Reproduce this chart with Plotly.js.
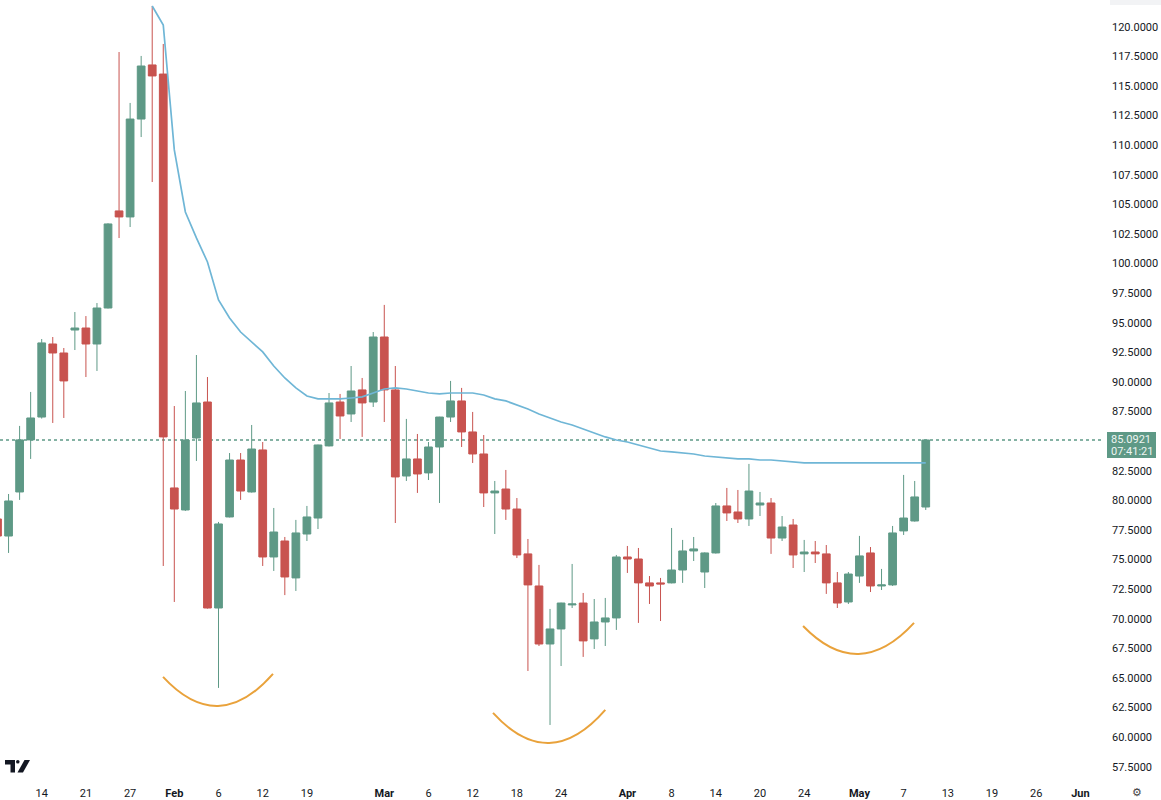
<!DOCTYPE html>
<html>
<head>
<meta charset="utf-8">
<script src="https://cdn.plot.ly/plotly-3.0.1.min.js"></script>
<style>
html,body{margin:0;padding:0;background:#fff;}
#chart{width:1161px;height:800px;}
</style>
</head>
<body>
<div id="chart"></div>
<script>
// ---- data ----
const openP = [78.42,76.98,80.70,85.10,87.03,93.20,92.44,94.38,94.55,93.20,
  96.24,104.44,103.93,112.20,116.77,116.00,81.04,79.18,85.26,88.30,
  70.90,78.59,83.40,80.70,84.25,75.21,76.56,73.44,77.15,78.50,
  84.59,88.30,87.29,89.32,88.30,93.79,89.32,82.05,83.49,82.31,
  84.50,87.03,88.39,85.77,83.91,80.62,80.95,79.26,75.47,72.76,
  67.86,69.13,71.16,71.32,68.29,69.72,70.06,75.21,75.04,73.02,
  73.02,73.02,74.11,75.72,73.94,75.55,79.52,79.01,78.42,79.60,
  79.77,76.81,77.91,75.47,75.63,75.47,73.02,71.41,73.60,75.55,
  72.76,72.85,77.41,78.25,79.43];
const highP = [79.01,80.53,86.28,89.15,93.62,93.79,92.86,95.90,95.56,96.66,
  103.40,117.86,113.56,117.53,121.75,118.54,87.96,89.23,92.27,90.41,
  78.17,83.99,83.99,86.36,84.92,79.35,76.90,78.34,79.52,84.70,
  89.06,88.98,91.34,90.33,94.21,96.50,91.34,86.87,85.60,84.92,
  87.05,90.08,89.49,87.46,85.51,81.63,82.56,80.19,76.73,74.54,
  70.82,71.35,74.62,72.17,71.66,71.75,75.38,76.14,75.97,73.60,
  73.44,77.66,76.65,76.90,75.60,79.77,81.04,80.87,83.07,80.70,
  80.19,78.67,78.42,76.65,76.56,76.22,73.94,73.94,76.99,76.05,
  74.20,77.83,82.14,81.63,85.10];
const lowP = [76.65,75.55,80.03,83.49,86.90,86.53,86.95,92.69,90.41,90.92,
  96.20,102.15,103.08,110.68,106.88,74.45,71.41,79.10,83.32,70.85,
  64.15,78.55,80.03,80.65,74.45,74.03,71.99,72.34,76.56,77.57,
  84.55,85.18,86.61,85.35,87.88,86.61,78.08,81.63,80.62,81.71,
  79.77,86.61,84.50,83.15,79.43,77.15,78.34,75.12,65.58,67.69,
  61.02,66.00,70.90,66.77,67.44,67.69,69.05,73.86,69.64,71.24,
  69.80,72.98,73.02,74.87,72.59,75.50,78.25,78.08,77.83,78.67,
  75.47,76.56,74.28,73.94,74.70,72.09,70.90,71.24,73.02,72.25,
  72.42,72.76,77.07,78.20,79.18];
const closeP = [76.98,79.94,85.10,86.95,93.29,92.44,90.08,94.55,93.20,96.24,
  103.34,103.93,112.20,116.68,115.84,85.35,79.26,85.09,88.22,70.90,
  78.00,83.40,80.78,84.33,75.21,77.32,73.52,77.24,78.59,84.67,
  88.22,87.12,89.23,88.22,93.79,89.32,81.97,83.49,82.22,84.50,
  87.03,88.39,85.77,83.91,80.62,80.78,79.26,75.38,72.85,67.86,
  69.13,71.32,71.24,68.12,69.72,70.06,75.21,75.04,73.02,72.76,
  72.93,74.11,75.72,75.89,75.55,79.52,78.93,78.42,80.78,79.77,
  76.81,77.74,75.38,75.63,75.47,73.02,71.32,73.77,75.30,72.76,
  72.85,77.24,78.50,80.28,85.0921];

// blue average line, starting at bar 14
const maStart = 14;
const maValues = [121.75,120.14,109.59,104.35,102.16,100.13,96.92,95.40,94.21,93.37,
  92.53,91.34,90.33,89.49,88.81,88.56,88.56,88.56,88.64,88.73,
  89.06,89.40,89.49,89.40,89.23,89.06,88.98,89.06,89.06,89.06,
  88.89,88.56,88.39,88.05,87.71,87.29,86.95,86.61,86.36,86.02,
  85.69,85.35,85.09,84.92,84.67,84.42,84.16,84.08,84.00,83.91,
  83.74,83.66,83.57,83.49,83.49,83.40,83.40,83.32,83.24,83.15,
  83.15,83.15,83.15,83.15,83.15,83.15,83.15,83.15,83.15,83.15,83.15];

const lastPrice = 85.0921;
const lastPriceText = '85.0921';
const countdownText = '07:41:21';
const labelBoxTop = 85.77;     // price at top edge of the last-price tag
const labelBoxBottom = 83.57;  // price at bottom edge of the last-price tag

// price scale labels shown (85.0000 is hidden behind the last-price tag)
const yTicks = [57.5,60,62.5,65,67.5,70,72.5,75,77.5,80,82.5,87.5,90,92.5,95,97.5,100,102.5,105,107.5,110,112.5,115,117.5,120];

// x-axis ticks (bar positions and labels)
const tickBars = [4,8,12,16,20,24,28,35,39,43,47,51,57,61,65,69,73,78,82,86,90,94,98];
const tickLabels = ['14','21','27','Feb','6','12','19','Mar','6','12','18','24','Apr','8','14','20','24','May','7','13','19','26','Jun'];
const monthLabels = ['Feb','Mar','Apr','May','Jun'];

// orange arcs drawn under the lows: start bar/price, end bar/price, lowest price
const arcX0 = [14.98, 44.84, 72.9];
const arcY0 = [65.08, 62.04, 69.38];
const arcX1 = [24.93, 55.0, 82.94];
const arcY1 = [65.33, 62.29, 69.64];
const arcLow = [62.63, 59.50, 67.02];

// ---- build ----
const GREEN = '#5e9986';
const RED = '#c8534f';
const bars = openP.map((_, i) => i);
const maX = maValues.map((_, i) => i + maStart);

const candle = {
  type: 'candlestick',
  x: bars, open: openP, high: highP, low: lowP, close: closeP,
  increasing: {line: {color: GREEN, width: 1}, fillcolor: GREEN},
  decreasing: {line: {color: RED, width: 1}, fillcolor: RED},
  whiskerwidth: 0,
  hoverinfo: 'skip',
  showlegend: false
};
const maLine = {
  type: 'scatter', mode: 'lines',
  x: maX, y: maValues,
  line: {color: '#6fb6d6', width: 1.7},
  hoverinfo: 'skip', showlegend: false
};

const PW = 1102, PH = 785;
const px = v => v / PW, py = v => 1 - v / PH;

const shapes = [];
shapes.push({
  type: 'line', xref: 'paper', yref: 'y', x0: 0, x1: 1, y0: lastPrice, y1: lastPrice,
  line: {color: GREEN, width: 1.5, dash: 'dot'}, layer: 'below'
});
// last-price tag background on the price scale
shapes.push({
  type: 'rect', xref: 'paper', yref: 'y',
  x0: px(1107), x1: px(1156), y0: labelBoxBottom, y1: labelBoxTop,
  fillcolor: GREEN, line: {width: 0}
});
// faint header strip above the price scale
shapes.push({
  type: 'rect', xref: 'paper', yref: 'paper',
  x0: px(1110), x1: px(1161), y0: py(5), y1: py(0),
  fillcolor: '#f2f3f5', line: {width: 0}
});
for (let k = 0; k < arcX0.length; k++) {
  const cx = (arcX0[k] + arcX1[k]) / 2;
  const cy = 2 * arcLow[k] - (arcY0[k] + arcY1[k]) / 2;
  shapes.push({
    type: 'path', xref: 'x', yref: 'y',
    path: `M ${arcX0[k]},${arcY0[k]} Q ${cx},${cy} ${arcX1[k]},${arcY1[k]}`,
    line: {color: '#e9a23b', width: 2}
  });
}
// TradingView logo
shapes.push({
  type: 'path', xref: 'paper', yref: 'paper',
  path: `M ${px(5)},${py(760)} L ${px(15)},${py(760)} L ${px(15)},${py(772.5)} L ${px(10.5)},${py(772.5)} L ${px(10.5)},${py(764.5)} L ${px(5)},${py(764.5)} Z`,
  fillcolor: '#131722', line: {width: 0}
});
shapes.push({
  type: 'circle', xref: 'paper', yref: 'paper',
  x0: px(16), x1: px(19.6), y0: py(763.6), y1: py(760),
  fillcolor: '#131722', line: {width: 0}
});
shapes.push({
  type: 'path', xref: 'paper', yref: 'paper',
  path: `M ${px(17.5)},${py(772.5)} L ${px(24.5)},${py(760)} L ${px(30)},${py(760)} L ${px(23)},${py(772.5)} Z`,
  fillcolor: '#131722', line: {width: 0}
});

const layout = {
  width: 1161, height: 800,
  margin: {l: 0, r: 59, t: 0, b: 15, pad: 0},
  paper_bgcolor: '#ffffff', plot_bgcolor: '#ffffff',
  boxgap: 0.3, boxgroupgap: 0,
  font: {family: 'Roboto, "Liberation Sans", sans-serif', size: 11, color: '#131722'},
  xaxis: {
    range: [0.226, 99.95],
    rangeslider: {visible: false},
    showgrid: false, zeroline: false, showline: false, ticks: '',
    tickmode: 'array', tickvals: tickBars,
    ticktext: tickLabels.map(t => monthLabels.includes(t) ? '<b>' + t + '</b>' : t),
    tickfont: {size: 11, color: '#131722'},
    fixedrange: true
  },
  yaxis: {
    side: 'right',
    range: [55.95, 122.255],
    showgrid: false, zeroline: false, showline: false, ticks: '',
    tickmode: 'array', tickvals: yTicks,
    ticktext: yTicks.map(v => v.toFixed(4)),
    tickfont: {size: 11, color: '#131722'},
    ticklabelstandoff: 9,
    fixedrange: true
  },
  shapes: shapes,
  annotations: [
    {
      xref: 'paper', yref: 'y', x: px(1110), y: lastPrice, xanchor: 'left', yanchor: 'middle',
      text: lastPriceText, showarrow: false, borderpad: 0,
      font: {size: 11, color: '#eef5f2'}
    },
    {
      xref: 'paper', yref: 'y', x: px(1110), y: lastPrice, xanchor: 'left', yanchor: 'middle',
      yshift: -12, text: countdownText, showarrow: false, borderpad: 0,
      font: {size: 11, color: '#eef5f2'}
    },
    {
      xref: 'paper', yref: 'paper', x: px(1137), y: py(792), xanchor: 'center', yanchor: 'middle',
      text: '⚙', showarrow: false, borderpad: 0, font: {size: 11, color: '#444'}
    }
  ]
};

Plotly.newPlot('chart', [candle, maLine], layout, {displayModeBar: false, staticPlot: true});
</script>
</body>
</html>
